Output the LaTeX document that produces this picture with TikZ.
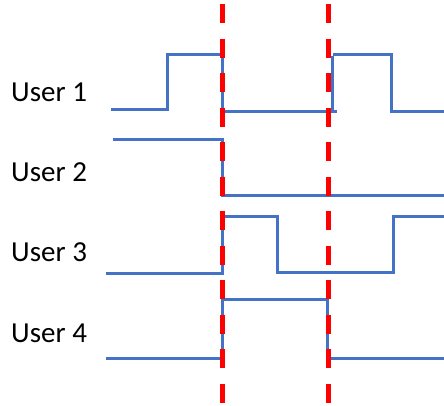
\documentclass[tikz,border=0pt]{standalone}
\usepackage{fontspec}
\setmainfont{Carlito}
\definecolor{wave}{HTML}{4472C4}
\definecolor{mark}{HTML}{FF0000}
\begin{document}
\begin{tikzpicture}[x=1pt,y=-1pt,
  wavestyle/.style={draw=wave,line width=3pt,line join=miter},
  cutline/.style={draw=mark,line width=5pt,dash pattern=on 19pt off 15.5pt},
  lab/.style={anchor=base west,inner sep=0pt,font=\fontsize{29}{31}\selectfont}]
\useasboundingbox (0,0) rectangle (444,405);
\node[lab] (u1) at (11,101.5) {User 1};
\node[lab] (u2) at (11,181.5) {User 2};
\node[lab] (u3) at (11,261.5) {User 3};
\node[lab] (u4) at (11,342) {User 4};
% waveforms
\draw[wavestyle] (111,109) -- (167,109) -- (167,54) -- (222,54) -- (222,111) -- (337,111);
\draw[wavestyle] (332,111) -- (332,56);
\draw[wavestyle] (333,54) -- (391,54) -- (391,111) -- (444,111);
\draw[wavestyle] (113,139) -- (222,139) -- (222,195) -- (444,195);
\draw[wavestyle] (106,273) -- (222,273) -- (222,216) -- (277,216) -- (277,272) -- (393,272) -- (393,216) -- (444,216);
\draw[wavestyle] (106,358) -- (222,358) -- (222,299) -- (327,299) -- (327,358) -- (444,358);
% cut lines
\coordinate (c1t) at (222.5,4);
\coordinate (c1b) at (222.5,405);
\coordinate (c2t) at (328.5,4);
\coordinate (c2b) at (328.5,405);
\draw[cutline] (c1t) -- (c1b);
\draw[cutline] (c2t) -- (c2b);
\end{tikzpicture}
\end{document}
